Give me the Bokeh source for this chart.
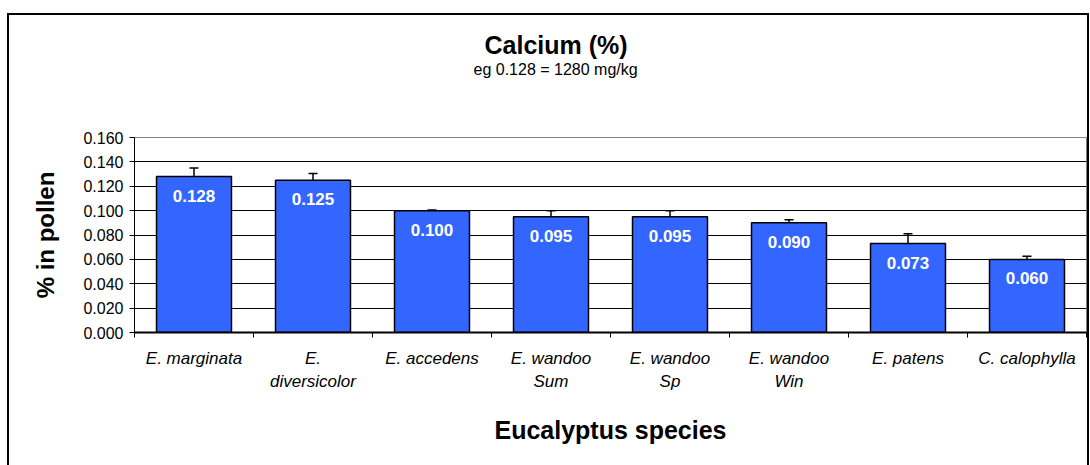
import numpy as np
from bokeh.plotting import figure
from bokeh.models import (Range1d, FixedTicker, SingleIntervalTicker, NumeralTickFormatter,
                          Title, Whisker, TeeHead, ColumnDataSource)
from bokeh.embed import file_html
from bokeh.resources import INLINE
from bokeh.core.properties import value

# ---- data ----
species = ["E. marginata", "E.\ndiversicolor", "E. accedens", "E. wandoo\nSum",
           "E. wandoo\nSp", "E. wandoo\nWin", "E. patens", "C. calophylla"]
calcium = [0.128, 0.125, 0.100, 0.095, 0.095, 0.090, 0.073, 0.060]
err_up = [0.007, 0.0055, 0.0005, 0.005, 0.005, 0.0025, 0.008, 0.0025]
title_text = "Calcium (%)"
subtitle_text = "eg 0.128 = 1280 mg/kg"

FONT = "Liberation Sans"
n = len(species)
xs = np.arange(n) + 0.5
src = ColumnDataSource(dict(
    x=xs, top=calcium,
    upper=np.array(calcium) + np.array(err_up),
    label=[f"{v:.3f}" for v in calcium],
))

p = figure(frame_width=952, frame_height=195,
           x_range=Range1d(0, n), y_range=Range1d(0, 0.16),
           output_backend="svg", toolbar_location=None, title=None,
           min_border_left=125, min_border_right=1, min_border_top=122, min_border_bottom=133,
           background_fill_color="white", border_fill_color="white")
p.styles = {"margin-top": "13px", "margin-left": "7px",
            "border-top": "2px solid black", "border-left": "2px solid black",
            "border-right": "2px solid black"}

p.outline_line_color = "#808080"
p.outline_line_width = 1

# bars
p.vbar(x="x", top="top", width=0.63, source=src,
       fill_color="#3366FF", line_color="black", line_width=1.5)

# error bars (upper only)
p.add_layout(Whisker(source=src, base="x", lower="top", upper="upper", dimension="height",
                     line_color="black", line_width=1.5,
                     upper_head=TeeHead(size=9, line_color="black", line_width=1.5),
                     lower_head=None))

# value labels
p.text(x="x", y="top", text="label", source=src, text_color="white",
       text_font=value(FONT), text_font_style="bold", text_font_size="17px",
       text_align="center", text_baseline="middle", y_offset=19)

# titles: spacer (closest to frame), subtitle, then main title
spacer = Title(text=" ", align="left", offset=0, text_font=FONT,
               text_font_size="1px", standoff=57)
sub = Title(text=subtitle_text, align="left", offset=339,
            text_font=FONT, text_font_size="16px", text_font_style="normal",
            text_color="black", standoff=0)
main = Title(text=title_text, align="left", offset=350,
             text_font=FONT, text_font_size="25px", text_font_style="bold",
             text_color="black", standoff=0)
p.add_layout(spacer, "above")
p.add_layout(sub, "above")
p.add_layout(main, "above")

# y axis
ya = p.yaxis[0]
ya.ticker = SingleIntervalTicker(interval=0.02, num_minor_ticks=0)
ya.formatter = NumeralTickFormatter(format="0.000")
ya.major_tick_out = 5
ya.major_tick_in = 0
ya.minor_tick_out = 0
ya.minor_tick_in = 0
ya.axis_line_color = "black"
ya.axis_line_width = 1
ya.major_tick_line_color = "black"
ya.major_label_standoff = 6
ya.major_label_text_font = FONT
ya.major_label_text_font_size = "16px"
ya.major_label_text_color = "black"
ya.axis_label = "% in pollen"
ya.axis_label_text_font = FONT
ya.axis_label_text_font_size = "24px"
ya.axis_label_text_font_style = "bold"
ya.axis_label_text_color = "black"
ya.axis_label_standoff = 21

# x axis
xa = p.xaxis[0]
xa.ticker = FixedTicker(ticks=list(xs), minor_ticks=list(range(n + 1)))
xa.major_label_overrides = {float(x): s for x, s in zip(xs, species)}
xa.major_tick_out = 0
xa.major_tick_in = 0
xa.minor_tick_out = 5
xa.minor_tick_in = 0
xa.minor_tick_line_color = "black"
xa.axis_line_color = "black"
xa.axis_line_width = 2
xa.major_label_standoff = 11
xa.major_label_text_font = FONT
xa.major_label_text_font_size = "17px"
xa.major_label_text_font_style = "italic"
xa.major_label_text_color = "black"
xa.major_label_text_line_height = 1.25
xa.axis_label = "Eucalyptus species"
xa.axis_label_text_font = FONT
xa.axis_label_text_font_size = "25px"
xa.axis_label_text_font_style = "bold"
xa.axis_label_text_color = "black"
xa.axis_label_standoff = 22

# grid
p.xgrid.visible = False
p.ygrid.grid_line_color = "black"
p.ygrid.grid_line_width = 1

open("out.html", "w").write(file_html(p, INLINE))
